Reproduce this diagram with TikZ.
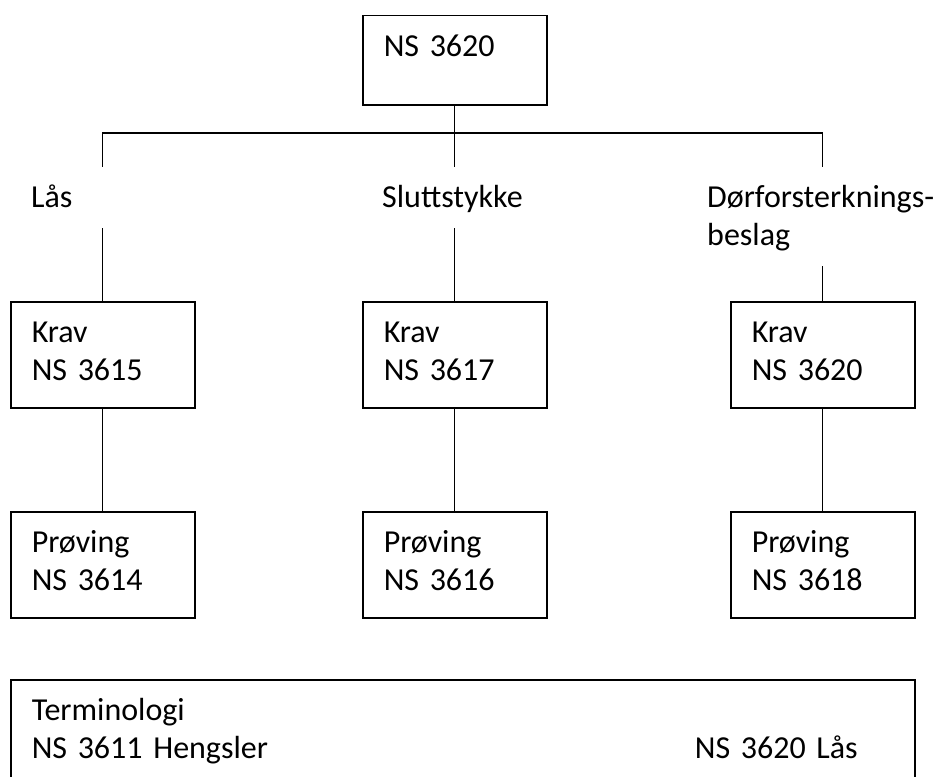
\documentclass[tikz,border=0pt]{standalone}
\usepackage{fontspec}
\setmainfont{Carlito}
\usepackage{tikz}

\tikzset{
  box/.style={draw,line width=1.5pt,anchor=north west,align=left,text width=142pt,
    inner xsep=21pt,inner ysep=10pt,text height=31pt,text depth=55pt},
  lbl/.style={anchor=base west,align=left,inner xsep=0pt,inner ysep=17pt,
    text height=23pt,text depth=4pt},
  link/.style={line width=1.2pt}
}

\begin{document}
\begin{tikzpicture}[x=1pt,y=-1pt,font=\fontsize{32}{38}\selectfont]
\clip (0,0) rectangle (936,776);
\node[box,text depth=38pt] (top) at (362,15) {NS 3620};

\node[lbl] (las) at (31,207) {Lås};
\node[lbl] (slutt) at (382,207) {Sluttstykke};
\node[lbl,text width=228pt,text depth=42pt] (dor) at (707,207) {Dørforsterknings-\\beslag};

\node[box] (krav1) at (10,301) {Krav\\NS 3615};
\node[box] (krav2) at (362,301) {Krav\\NS 3617};
\node[box] (krav3) at (730,301) {Krav\\NS 3620};

\node[box] (prov1) at (10,511) {Prøving\\NS 3614};
\node[box] (prov2) at (362,511) {Prøving\\NS 3616};
\node[box] (prov3) at (730,511) {Prøving\\NS 3618};

\node[box,text width=862pt,text depth=110pt] (term) at (10,679)
  {Terminologi\\\makebox[826pt][l]{NS 3611 Hengsler\hfill NS 3620 Lås}};

\coordinate (bar) at (0,133);
\coordinate (hub) at (top.south |- bar);
\draw[link] (top.south) -- (hub);
\draw[link] (krav1.north |- las.north) |- (hub) -| (krav3.north |- dor.north);
\draw[link] (hub) -- (krav2.north |- slutt.north);

\draw[link] (krav1.north |- las.south) -- (krav1.north);
\draw[link] (krav2.north |- slutt.south) -- (krav2.north);
\draw[link] (krav3.north |- dor.south) -- (krav3.north);

\draw[link] (krav1) -- (prov1);
\draw[link] (krav2) -- (prov2);
\draw[link] (krav3) -- (prov3);
\end{tikzpicture}
\end{document}
